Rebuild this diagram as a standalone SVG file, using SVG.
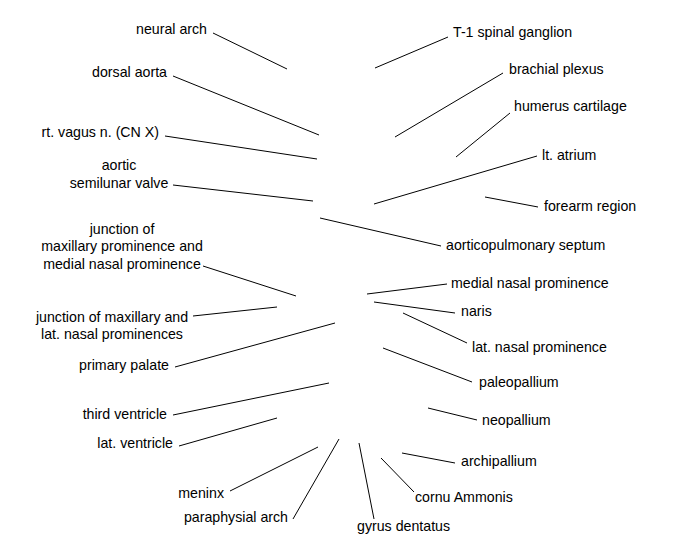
<svg xmlns="http://www.w3.org/2000/svg" width="675" height="550" viewBox="0 0 675 550">
<style>
text{font-family:"Liberation Sans",Arial,sans-serif;font-size:14.2px;fill:#000}
.e{text-anchor:end}.m{text-anchor:middle}
#connectors line{stroke:#000;stroke-width:1}
</style>
<rect width="675" height="550" fill="#fff"/>
<g id="connectors">
<line x1="213" y1="33" x2="287" y2="69"/>
<line x1="173" y1="76" x2="319" y2="135"/>
<line x1="165" y1="136" x2="317" y2="159"/>
<line x1="173" y1="185" x2="313" y2="201"/>
<line x1="320" y1="218" x2="441" y2="246"/>
<line x1="203" y1="266" x2="296" y2="296"/>
<line x1="193" y1="316" x2="277" y2="307"/>
<line x1="175" y1="367" x2="335" y2="323"/>
<line x1="173" y1="415" x2="329" y2="383"/>
<line x1="179" y1="446" x2="277" y2="418"/>
<line x1="230" y1="491" x2="318" y2="447"/>
<line x1="293" y1="519" x2="339" y2="439"/>
<line x1="448" y1="37" x2="375" y2="68"/>
<line x1="503" y1="73" x2="395" y2="137"/>
<line x1="510" y1="113" x2="456" y2="157"/>
<line x1="537" y1="156" x2="374" y2="204"/>
<line x1="538" y1="207" x2="485" y2="197"/>
<line x1="447" y1="284" x2="367" y2="294"/>
<line x1="455" y1="313" x2="374" y2="302"/>
<line x1="467" y1="343" x2="403" y2="313"/>
<line x1="472" y1="382" x2="383" y2="348"/>
<line x1="477" y1="420" x2="428" y2="408"/>
<line x1="455" y1="463" x2="402" y2="453"/>
<line x1="414" y1="492" x2="381" y2="458"/>
<line x1="374" y1="519" x2="359" y2="443"/>
</g>
<g id="neural-arch"><text class="e" x="207" y="34">neural arch</text></g>
<g id="dorsal-aorta"><text class="e" x="167" y="77">dorsal aorta</text></g>
<g id="vagus"><text class="e" x="159" y="137">rt. vagus n. (CN X)</text></g>
<g id="aortic-valve"><text class="m" x="119" y="170">aortic</text><text class="m" x="119" y="188">semilunar valve</text></g>
<g id="junction-mnp"><text class="m" x="122" y="234">junction of</text><text class="m" x="122" y="251">maxillary prominence and</text><text class="m" x="122" y="269">medial nasal prominence</text></g>
<g id="junction-lnp"><text class="m" x="112" y="322">junction of maxillary and</text><text class="m" x="112" y="339">lat. nasal prominences</text></g>
<g id="primary-palate"><text class="e" x="169" y="370">primary palate</text></g>
<g id="third-ventricle"><text class="e" x="167" y="419">third ventricle</text></g>
<g id="lat-ventricle"><text class="e" x="173" y="448">lat. ventricle</text></g>
<g id="meninx"><text class="e" x="224" y="498">meninx</text></g>
<g id="paraphysial-arch"><text class="e" x="288" y="522">paraphysial arch</text></g>
<g id="t1-ganglion"><text x="453" y="37">T-1 spinal ganglion</text></g>
<g id="brachial-plexus"><text x="509" y="74">brachial plexus</text></g>
<g id="humerus"><text x="514" y="111">humerus cartilage</text></g>
<g id="lt-atrium"><text x="542" y="160">lt. atrium</text></g>
<g id="forearm"><text x="544" y="211">forearm region</text></g>
<g id="ap-septum"><text x="446" y="250">aorticopulmonary septum</text></g>
<g id="mnp"><text x="451" y="288">medial nasal prominence</text></g>
<g id="naris"><text x="461" y="316">naris</text></g>
<g id="lnp"><text x="472" y="352">lat. nasal prominence</text></g>
<g id="paleopallium"><text x="479" y="387">paleopallium</text></g>
<g id="neopallium"><text x="482" y="425">neopallium</text></g>
<g id="archipallium"><text x="461" y="466">archipallium</text></g>
<g id="cornu"><text x="415" y="502">cornu Ammonis</text></g>
<g id="gyrus"><text x="357" y="531">gyrus dentatus</text></g>
</svg>
